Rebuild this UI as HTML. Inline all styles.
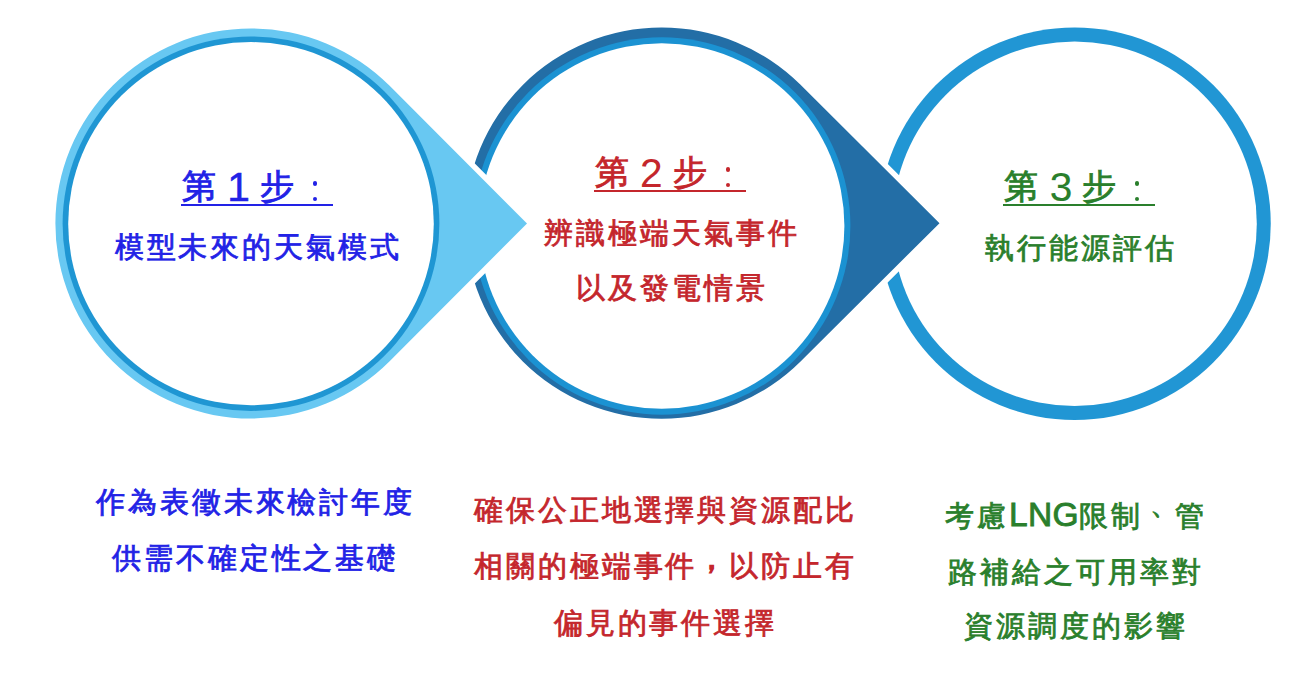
<!DOCTYPE html>
<html><head><meta charset="utf-8"><style>
html,body{margin:0;padding:0;background:#fff;}
body{width:1292px;height:682px;position:relative;overflow:hidden;font-family:"Liberation Sans",sans-serif;}
svg{position:absolute;left:0;top:0;}
.t{position:absolute;white-space:nowrap;line-height:1;}
.b{font-size:28.5px;letter-spacing:2.95px;-webkit-text-stroke:0.8px;}
.h{font-size:33.5px;-webkit-text-stroke:0.9px;}
.d{font-size:40.7px;-webkit-text-stroke:0.5px;}
.u{position:absolute;height:2.4px;}
.dot{position:absolute;width:4.4px;height:4.4px;border-radius:50%;}
.lat{line-height:0;font-size:33.5px;letter-spacing:0.3px;-webkit-text-stroke:0.9px;}
.p1{display:inline-block;position:relative;left:7px;top:-12px;}
.p2{display:inline-block;position:relative;top:-7.5px;left:-0.3px;-webkit-text-stroke-width:1.6px;}
.blue{color:#2222e6;-webkit-text-stroke-color:#2222e6;}
.red{color:#c4262c;-webkit-text-stroke-color:#c4262c;}
.green{color:#2a7f2c;-webkit-text-stroke-color:#2a7f2c;}
.ublue{background:#2222e6;} .ured{background:#c4262c;} .ugreen{background:#2a7f2c;}
</style></head><body>
<svg width="1292" height="682" viewBox="0 0 1292 682"><circle cx="1074.6" cy="223.75" r="196.15" fill="#2196d4"/><circle cx="1074.6" cy="223.75" r="182.2" fill="#fff"/><path d="M800.55 84.85 L939.50 223.15 L800.55 361.45 A196.4 195.55 0 1 1 800.55 84.85 Z" fill="#236ea6" stroke="#fff" stroke-width="11"/><path d="M800.55 84.85 L939.50 223.15 L800.55 361.45 A196.4 195.55 0 1 1 800.55 84.85 Z" fill="#236ea6"/><ellipse cx="661.7" cy="226" rx="188.7" ry="188.7" fill="#1b92d2"/><ellipse cx="661.7" cy="226" rx="182.7" ry="182.7" fill="#fff"/><path d="M389.62 85.85 L527.00 223.50 L389.62 361.15 A195.6 195.1 0 1 1 389.62 85.85 Z" fill="#68c8f2" stroke="#fff" stroke-width="11"/><path d="M389.62 85.85 L527.00 223.50 L389.62 361.15 A195.6 195.1 0 1 1 389.62 85.85 Z" fill="#68c8f2"/><ellipse cx="251" cy="223.7" rx="188.4" ry="187.2" fill="#1f96d3"/><ellipse cx="251" cy="223.7" rx="182.8" ry="181.6" fill="#fff"/></svg>
<div class="u ublue" style="left:181.2px;top:203.6px;width:152px"></div>
<div class="t h blue" style="left:182.00px;top:170.10px">第</div>
<div class="t d blue" style="left:227.20px;top:167.40px">1</div>
<div class="t h blue" style="left:260.20px;top:170.10px">步</div>
<div class="dot ublue" style="left:312.80px;top:181.30px"></div>
<div class="dot ublue" style="left:312.80px;top:196.90px"></div>
<div class="u ured" style="left:594.0px;top:189.6px;width:152px"></div>
<div class="t h red" style="left:594.80px;top:156.10px">第</div>
<div class="t d red" style="left:640.00px;top:153.40px;-webkit-text-stroke-width:0.1px">2</div>
<div class="t h red" style="left:673.00px;top:156.10px">步</div>
<div class="dot ured" style="left:725.60px;top:167.30px"></div>
<div class="dot ured" style="left:725.60px;top:182.90px"></div>
<div class="u ugreen" style="left:1003.2px;top:203.6px;width:152px"></div>
<div class="t h green" style="left:1004.00px;top:170.10px">第</div>
<div class="t d green" style="left:1049.80px;top:167.40px;-webkit-text-stroke-width:0.1px">3</div>
<div class="t h green" style="left:1082.20px;top:170.10px">步</div>
<div class="dot ugreen" style="left:1134.80px;top:181.30px"></div>
<div class="dot ugreen" style="left:1134.80px;top:196.90px"></div>
<div class="t b blue" style="left:256.9px;top:233px;transform:translateX(calc(-50% + 1.475px))">模型未來的天氣模式</div>
<div class="t b red" style="left:670.3px;top:219px;transform:translateX(calc(-50% + 1.475px))">辨識極端天氣事件</div>
<div class="t b red" style="left:670.2px;top:274px;transform:translateX(calc(-50% + 1.475px))">以及發電情景</div>
<div class="t b green" style="left:1079.4px;top:233.5px;transform:translateX(calc(-50% + 1.475px))">執行能源評估</div>
<div class="t b blue" style="left:254.05px;top:487.5px;transform:translateX(calc(-50% + 1.475px))">作為表徵未來檢討年度</div>
<div class="t b blue" style="left:254.1px;top:543.5px;transform:translateX(calc(-50% + 1.475px))">供需不確定性之基礎</div>
<div class="t b red" style="left:664px;top:495.5px;transform:translateX(calc(-50% + 1.475px))">確保公正地選擇與資源配比</div>
<div class="t b red" style="left:664px;top:552px;transform:translateX(calc(-50% + 1.475px))">相關的極端事件<span class="p2">，</span>以防止有</div>
<div class="t b red" style="left:664px;top:608.5px;transform:translateX(calc(-50% + 1.475px))">偏見的事件選擇</div>
<div class="t b green" style="left:1074.4px;top:502px;transform:translateX(calc(-50% + 1.475px))">考慮<span class="lat">LNG</span>限制<span class="p1">、</span>管</div>
<div class="t b green" style="left:1074.65px;top:558px;transform:translateX(calc(-50% + 1.475px))">路補給之可用率對</div>
<div class="t b green" style="left:1074.7px;top:612px;transform:translateX(calc(-50% + 1.475px))">資源調度的影響</div>
</body></html>
